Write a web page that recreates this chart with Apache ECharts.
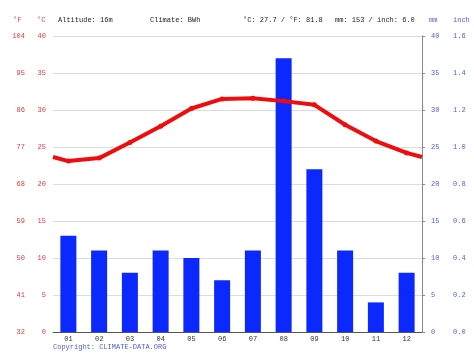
<!DOCTYPE html>
<html>
<head>
<meta charset="utf-8">
<style>html,body{margin:0;padding:0;background:#fff}#c{width:474px;height:355px}</style>
<script src="https://cdn.jsdelivr.net/npm/echarts@6/dist/echarts.min.js"></script>
</head>
<body>
<div id="c"></div>
<script>
var months = ['01','02','03','04','05','06','07','08','09','10','11','12'];
var precipitationMm = [13, 11, 8, 11, 10, 7, 11, 37, 22, 11, 4, 8];
var temperatureC = [23.1, 23.5, 25.6, 27.8, 30.2, 31.5, 31.6, 31.2, 30.7, 28.0, 25.8, 24.2];
var headerTexts = ['Altitude: 16m', 'Climate: BWh', '°C: 27.7 / °F: 81.8', 'mm: 153 / inch: 6.0'];
var copyright = 'Copyright: CLIMATE-DATA.ORG';

var RED = '#e23a3a', BLUE = '#4b5fd6', FONT = 'Liberation Mono';
var edge = (temperatureC[0] + temperatureC[11]) / 2;
var lineData = [{value: [0.5, edge], symbol: 'none'}];
temperatureC.forEach(function (v, i) { lineData.push([i + 1, v]); });
lineData.push({value: [12.5, edge], symbol: 'none'});

var chart = echarts.init(document.getElementById('c'));
var lbl = function (c) { return {color: c, fontFamily: FONT, fontSize: 7}; };
chart.setOption({
  animation: false,
  grid: {left: 53, right: 52, top: 36, bottom: 23},
  xAxis: [{
    type: 'category', data: months,
    axisLine: {lineStyle: {color: '#555'}},
    axisTick: {length: 3, lineStyle: {color: '#555'}},
    axisLabel: Object.assign(lbl('#333'), {margin: 4})
  }, {
    type: 'value', min: 0.5, max: 12.5, show: false
  }],
  yAxis: [{
    type: 'value', min: 0, max: 40, interval: 5, position: 'left',
    axisLine: {show: false}, axisTick: {show: false},
    splitLine: {lineStyle: {color: '#dcdcdc'}},
    axisLabel: Object.assign(lbl(RED), {margin: 7})
  }, {
    type: 'value', min: 32, max: 104, interval: 9, position: 'left', offset: 21,
    axisLine: {show: false}, axisTick: {show: false}, splitLine: {show: false},
    axisLabel: Object.assign(lbl(RED), {margin: 7})
  }, {
    type: 'value', min: 0, max: 40, interval: 5, position: 'right',
    axisLine: {show: true, lineStyle: {color: '#888', width: 1}},
    axisTick: {show: true, length: 3, lineStyle: {color: '#888'}},
    splitLine: {show: false},
    axisLabel: Object.assign(lbl(BLUE), {margin: 9})
  }, {
    type: 'value', min: 0, max: 1.6, interval: 0.2, position: 'right', offset: 25,
    axisLine: {show: false}, axisTick: {show: false}, splitLine: {show: false},
    axisLabel: Object.assign(lbl(BLUE), {margin: 6, formatter: function (v) { return v.toFixed(1); }})
  }],
  series: [{
    type: 'bar', data: precipitationMm, xAxisIndex: 0, yAxisIndex: 2,
    barWidth: 16, itemStyle: {color: '#0a28ff'}, z: 2
  }, {
    type: 'line', data: lineData, xAxisIndex: 1, yAxisIndex: 0,
    symbol: 'circle', symbolSize: 5,
    lineStyle: {color: '#f00c0c', width: 4},
    itemStyle: {color: '#f00c0c'}, z: 3
  }],
  graphic: [
    {type: 'text', left: 13, top: 17, style: {text: '°F', fill: RED, font: '7px ' + FONT}},
    {type: 'text', left: 37, top: 17, style: {text: '°C', fill: RED, font: '7px ' + FONT}},
    {type: 'text', left: 58, top: 17, style: {text: headerTexts[0], fill: '#222', font: '7px ' + FONT}},
    {type: 'text', left: 150, top: 17, style: {text: headerTexts[1], fill: '#222', font: '7px ' + FONT}},
    {type: 'text', left: 243, top: 17, style: {text: headerTexts[2], fill: '#222', font: '7px ' + FONT}},
    {type: 'text', left: 335, top: 17, style: {text: headerTexts[3], fill: '#222', font: '7px ' + FONT}},
    {type: 'text', left: 429, top: 17, style: {text: 'mm', fill: BLUE, font: '7px ' + FONT}},
    {type: 'text', left: 453, top: 17, style: {text: 'inch', fill: BLUE, font: '7px ' + FONT}},
    {type: 'text', left: 53, top: 344, style: {text: copyright, fill: BLUE, font: '7px ' + FONT}}
  ]
});
</script>
</body>
</html>
